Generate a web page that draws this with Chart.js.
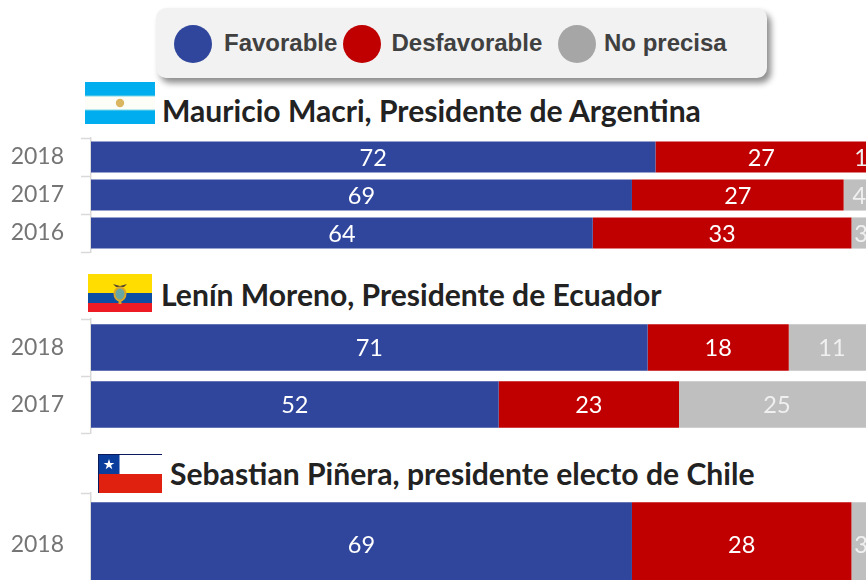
<!DOCTYPE html>
<html lang="es">
<head>
<meta charset="utf-8">
<title>Imagen de presidentes</title>
<script src="https://cdn.jsdelivr.net/npm/chart.js@4"></script>
<style>
html,body{margin:0;padding:0;background:#fff;width:866px;height:580px;overflow:hidden}
#page{position:relative;width:866px;height:580px;overflow:hidden}
canvas{position:absolute;left:0}
.legend{position:absolute;left:156px;top:8px;width:611px;height:70px;border-radius:10px;background:#f2f2f2;box-shadow:4px 5px 6px rgba(0,0,0,.45)}
.dot{position:absolute;top:16.5px;width:38px;height:38px;border-radius:50%}
.lt{position:absolute;top:21px;font:bold 24px/28px "Liberation Sans",Arial,sans-serif;color:#404040;white-space:nowrap}
.title{position:absolute;font:bold 30.1px/34px Lato,sans-serif;color:#222;white-space:nowrap}
svg{position:absolute;display:block}
</style>
</head>
<body>
<div id="page">
  <div class="legend" id="legend"></div>

  <svg style="left:85px;top:82px" width="70" height="42" viewBox="0 0 70 42">
    <rect width="70" height="42" fill="#00aeef"/>
    <rect y="13.5" width="70" height="15" fill="#7fd6e6"/>
    <rect y="14.5" width="70" height="13" fill="#fdfdf8"/>
    <circle cx="35" cy="21" r="4.2" fill="#d9b65f"/>
  </svg>
  <div class="title" id="t0" style="left:162px;top:93px"></div>

  <svg style="left:88px;top:274px" width="64" height="38" viewBox="0 0 64 38">
    <rect width="64" height="19" fill="#ffdd00"/>
    <rect y="19" width="64" height="10" fill="#0b4ea2"/>
    <rect y="29" width="64" height="9" fill="#ed1c24"/>
    <path d="M25 10 L32 12 L39 10 L36 13 L28 13 Z" fill="#5a4a2a"/>
    <ellipse cx="32" cy="20" rx="5.5" ry="6.5" fill="#6aa7a0" stroke="#d8a52b" stroke-width="2"/>
    <rect x="30.5" y="27" width="3" height="3" fill="#d8a52b"/>
  </svg>
  <div class="title" id="t1" style="left:161px;top:277px"></div>

  <svg style="left:98px;top:454px" width="64" height="39" viewBox="0 0 64 39">
    <rect width="64" height="20" fill="#fff"/>
    <rect y="20" width="64" height="19" fill="#e1210f"/>
    <rect width="21.5" height="20" fill="#0b3d9c"/>
    <rect width="64" height="1" fill="#0a1a5c"/>
    <rect width="1" height="39" fill="#0a1a5c"/>
    <path d="M11 5 L12.3 8.9 L16.4 8.9 L13.1 11.3 L14.3 15.2 L11 12.8 L7.7 15.2 L8.9 11.3 L5.6 8.9 L9.7 8.9 Z" fill="#fff"/>
  </svg>
  <div class="title" id="t2" style="left:170px;top:456px"></div>

  <canvas id="c0"></canvas>
  <canvas id="c1"></canvas>
  <canvas id="c2"></canvas>
</div>
<script>
const seriesNames = ["Favorable", "Desfavorable", "No precisa"];
const seriesColors = ["#30469c", "#c00000", "#bfbfbf"];
const legendDotColors = ["#30469c", "#c00000", "#a6a6a6"];
const labelColors = ["#ffffff", "#ffffff", "#f0f0f0"];

const titles = [
  "Mauricio Macri, Presidente de Argentina",
  "Lenín Moreno, Presidente de Ecuador",
  "Sebastian Piñera, presidente electo de Chile"
];

const yearsArgentina = ["2018", "2017", "2016"];
const favorableArgentina = [72, 69, 64];
const desfavorableArgentina = [27, 27, 33];
const noPrecisaArgentina = [1, 4, 3];

const yearsEcuador = ["2018", "2017"];
const favorableEcuador = [71, 52];
const desfavorableEcuador = [18, 23];
const noPrecisaEcuador = [11, 25];

const yearsChile = ["2018"];
const favorableChile = [69];
const desfavorableChile = [28];
const noPrecisaChile = [3];

const labelMaxX = 861;

// legend
const legendEl = document.getElementById("legend");
const dotLefts = [18, 187, 402];
const textLefts = [68, 235.5, 448];
seriesNames.forEach((n, i) => {
  const d = document.createElement("div");
  d.className = "dot";
  d.style.left = dotLefts[i] + "px";
  d.style.background = legendDotColors[i];
  legendEl.appendChild(d);
  const t = document.createElement("div");
  t.className = "lt";
  t.style.left = textLefts[i] + "px";
  t.textContent = n;
  legendEl.appendChild(t);
});
titles.forEach((t, i) => { document.getElementById("t" + i).textContent = t; });

const valueLabels = {
  id: "valueLabels",
  afterDatasetsDraw(chart) {
    const ctx = chart.ctx;
    ctx.save();
    ctx.font = '23.5px Lato, sans-serif';
    ctx.textAlign = "center";
    ctx.textBaseline = "middle";
    chart.data.datasets.forEach((ds, di) => {
      chart.getDatasetMeta(di).data.forEach((bar, i) => {
        const p = bar.getCenterPoint();
        ctx.fillStyle = labelColors[di];
        ctx.fillText(String(ds.data[i]), Math.min(p.x, labelMaxX), p.y + 1);
      });
    });
    ctx.restore();
  }
};

function makeChart(id, top, height, years, fav, des, nop) {
  const el = document.getElementById(id);
  el.style.top = top + "px";
  el.width = 875;
  el.height = height;
  el.style.width = "875px";
  el.style.height = height + "px";
  return new Chart(el, {
    type: "bar",
    plugins: [valueLabels],
    data: {
      labels: years,
      datasets: [fav, des, nop].map((d, i) => ({
        label: seriesNames[i],
        data: d,
        backgroundColor: seriesColors[i],
        borderWidth: 0,
        barPercentage: 0.82,
        categoryPercentage: 1
      }))
    },
    options: {
      indexAxis: "y",
      responsive: false,
      animation: false,
      layout: { padding: { top: 2, bottom: 2, left: 0, right: 0 } },
      plugins: { legend: { display: false }, title: { display: false }, tooltip: { enabled: false } },
      scales: {
        x: { stacked: true, min: 0, max: 100, display: false },
        y: {
          stacked: true,
          afterFit(s) { s.width = 91; s.paddingTop = 0; s.paddingBottom = 0; },
          border: { display: true, color: "#d9d9d9", width: 1.5 },
          grid: { offset: true, drawOnChartArea: false, drawTicks: true, tickLength: 10, tickColor: "#d9d9d9", tickWidth: 1.5 },
          ticks: { color: "#757575", font: { family: "Lato, sans-serif", size: 23 }, padding: 17 }
        }
      }
    }
  });
}

makeChart("c0", 136, 118, yearsArgentina, favorableArgentina, desfavorableArgentina, noPrecisaArgentina);
makeChart("c1", 317, 118, yearsEcuador, favorableEcuador, desfavorableEcuador, noPrecisaEcuador);
makeChart("c2", 491, 107, yearsChile, favorableChile, desfavorableChile, noPrecisaChile);
</script>
</body>
</html>
